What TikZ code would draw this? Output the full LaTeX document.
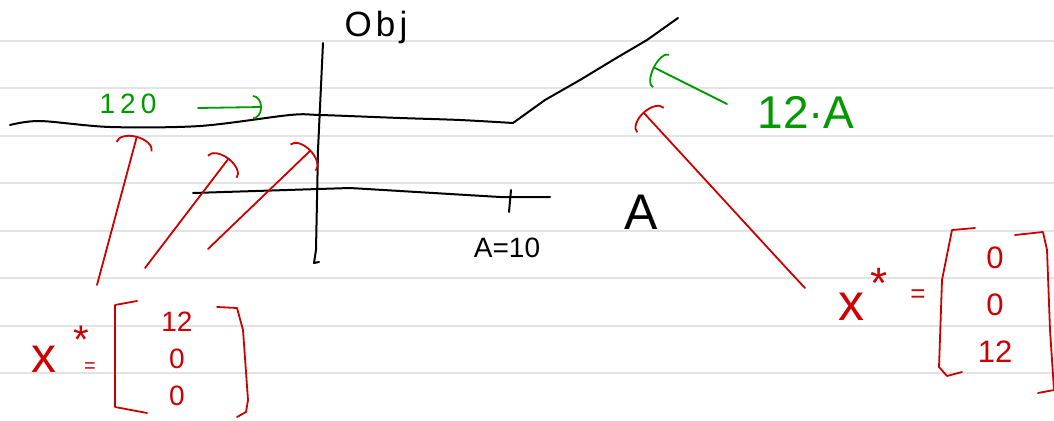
\documentclass[tikz,border=0pt]{standalone}
\usepackage{fontspec}
\setmainfont{Liberation Sans}
\usetikzlibrary{arrows.meta}

\begin{document}
\begin{tikzpicture}[x=1pt, y=-1pt,
	every node/.style={inner sep=0pt},
	rule/.style={gray!22, line width=2pt},
	ink/.style={line width=2pt, line cap=round, line join=round},
	redink/.style={ink, line width=1.8pt, red!80!black},
	redarrow/.style={redink, -{Arc Barb[width=38pt, length=11pt]}},
	greenarrow/.style={ink, line width=1.8pt, green!60!black, -{Arc Barb[width=#1, length=9pt]}},
	greentext/.style={green!60!black, anchor=base},
	blacktext/.style={anchor=base}]
	\useasboundingbox (0,0) rectangle (1054,420);
	% ruled paper
	\foreach \y in {41,88,136,183,231,278,326,373}
		\draw[rule] (0,\y) -- (1054,\y);

	% axes
	\coordinate (ytop) at (323,43);
	\coordinate (ybot) at (314,263);
	\coordinate (xleft) at (193,193);
	\coordinate (xright) at (550,197);
	\draw[ink] (ytop) -- (318,150) -- (316,250) -- (ybot) -- (319,262);
	\draw[ink] (xleft) -- (350,188) -- (500,197) -- (xright);
	\draw[ink] (511,190) -- (509,212);

	% objective
	\coordinate (flat) at (10,125);
	\coordinate (kink) at (513,123);
	\coordinate (top) at (678,18);
	\draw[ink] plot[smooth, tension=0.5] coordinates {(flat) (40,121) (110,127) (200,126) (290,115) (320,115) (400,118) (460,120) (kink)};
	\draw[ink] (kink) -- (545,100) -- (580,80) -- (613,60) -- (647,40) -- (top);

	% labels
	\node[blacktext, font=\fontsize{35}{35}\selectfont\addfontfeature{LetterSpace=12}] (obj) at (376,37) {Obj};
	\node[blacktext, font=\fontsize{50}{50}\selectfont] (alab) at (641,229) {A};
	\node[blacktext, font=\fontsize{28}{28}\selectfont] (aten) at (507,257) {A=10};
	\node[greentext, font=\fontsize{28}{28}\selectfont\addfontfeature{LetterSpace=18}] (gain) at (128,113) {120};
	\node[greentext, font=\fontsize{46}{46}\selectfont] (slope) at (806,128) {12·A};

	% green arrows
	\coordinate (gaintail) at (198,108);
	\coordinate (gainhead) at (262,107);
	\draw[greenarrow=24pt] (gaintail) -- (gainhead);
	\coordinate (slopetail) at (727,104);
	\coordinate (slopehead) at (653,67);
	\draw[greenarrow=38pt] (slopetail) -- (slopehead);

	% left solution
	\node[red!80!black, anchor=base, font=\fontsize{50}{50}\selectfont] (xl) at (44,372) {x};
	\node[red!80!black, anchor=north, font=\fontsize{40}{40}\selectfont] (xlstar) at (81,326) {*};
	\node[red!80!black, font=\fontsize{20}{20}\selectfont] (xleq) at (90,368) {=};
	\node[red!80!black, align=center, font=\fontsize{28}{37}\selectfont] (vl) at (177,359) {12\\0\\0};
	\draw[redink] (137,301) -- (115,305) -- (115,407) -- (147,413);
	\draw[redink] (217,307) -- (237,308) -- (243,330) -- (248,400) -- (246,412) -- (237,417);

	% right solution
	\node[red!80!black, anchor=base, font=\fontsize{52}{52}\selectfont] (xr) at (851,320) {x};
	\node[red!80!black, anchor=north, font=\fontsize{44}{44}\selectfont] (xrstar) at (879,268) {*};
	\node[red!80!black, font=\fontsize{26}{26}\selectfont] (xreq) at (918,296) {=};
	\node[red!80!black, align=center, font=\fontsize{31}{47}\selectfont] (vr) at (995,305) {0\\0\\12};
	\draw[redink] (975,228) -- (952,230) -- (942,280) -- (939,367) -- (947,376) -- (962,372);
	\draw[redink] (1015,235) -- (1043,232) -- (1047,250) -- (1050,330) -- (1054,390) -- (1038,393);

	% red arrows
	\coordinate (l1) at (97,285);
	\coordinate (l1h) at (137,136);
	\coordinate (l2) at (145,268);
	\coordinate (l2h) at (229,158);
	\coordinate (l3) at (208,249);
	\coordinate (l3h) at (311,150);
	\coordinate (r1) at (805,288);
	\coordinate (r1h) at (643,112);
	\draw[redarrow] (l1) -- (l1h);
	\draw[redarrow] (l2) -- (l2h);
	\draw[redarrow] (l3) -- (l3h);
	\draw[redink] (r1) -- (790,272);
	\draw[redarrow] (790,272) -- (r1h);
\end{tikzpicture}
\end{document}
